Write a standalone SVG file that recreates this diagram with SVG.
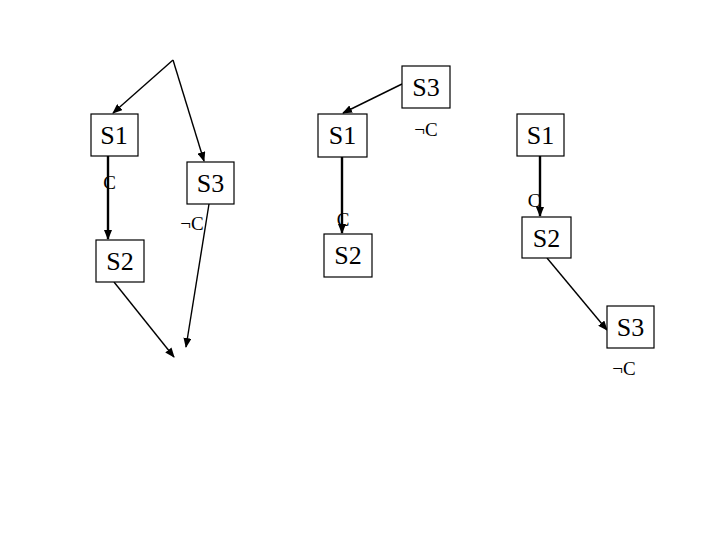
<svg xmlns="http://www.w3.org/2000/svg" width="720" height="540" viewBox="0 0 720 540">
<style>
.box{fill:#fff;stroke:#000;stroke-width:1.2}
.nt{font-family:"Liberation Serif","Times New Roman",serif;font-size:26px;text-anchor:middle;fill:#000}
.lb{font-family:"Liberation Serif","Times New Roman",serif;font-size:19px;text-anchor:middle;fill:#000}
.e{stroke:#000;stroke-width:1.4;fill:none;marker-end:url(#ah)}
.t{stroke:#000;stroke-width:2.4;fill:none;marker-end:url(#ah2)}
</style>
<defs>
<marker id="ah" markerWidth="10" markerHeight="8" refX="9" refY="4" orient="auto" markerUnits="userSpaceOnUse">
<path d="M0,0 L10,4 L0,8 Z" fill="#000"/>
</marker>
<marker id="ah2" markerWidth="10" markerHeight="8" refX="9" refY="4" orient="auto" markerUnits="userSpaceOnUse">
<path d="M0,0 L10,4 L0,8 Z" fill="#000"/>
</marker>
</defs>
<rect width="720" height="540" fill="#fff"/>
<g id="connectors">
<line class="e" x1="173" y1="60" x2="113" y2="113"/>
<line class="e" x1="173" y1="60" x2="204" y2="161"/>
<line class="t" x1="108" y1="156" x2="108" y2="239"/>
<line class="e" x1="114" y1="282" x2="174" y2="357"/>
<line class="e" x1="209" y1="204" x2="186" y2="347"/>
<line class="e" x1="402" y1="84" x2="343" y2="113"/>
<line class="t" x1="342" y1="157" x2="342" y2="233"/>
<line class="t" x1="540" y1="156" x2="540" y2="216"/>
<line class="e" x1="547" y1="258" x2="607" y2="330"/>
<text class="lb" x="109.5" y="189">C</text>
<text class="lb" x="192" y="230">¬C</text>
<text class="lb" x="426" y="136">¬C</text>
<text class="lb" x="343" y="226">C</text>
<text class="lb" x="534" y="207">C</text>
<text class="lb" x="624" y="375">¬C</text>
</g>
<g id="p1-s1"><rect class="box" x="91" y="114" width="47" height="42"/><text class="nt" x="114" y="144">S1</text></g>
<g id="p1-s3"><rect class="box" x="187" y="162" width="47" height="42"/><text class="nt" x="210.5" y="192">S3</text></g>
<g id="p1-s2"><rect class="box" x="96" y="240" width="48" height="42"/><text class="nt" x="120" y="270">S2</text></g>
<g id="p2-s3"><rect class="box" x="402" y="66" width="48" height="42"/><text class="nt" x="426" y="96">S3</text></g>
<g id="p2-s1"><rect class="box" x="318" y="114" width="49" height="43"/><text class="nt" x="342.5" y="144">S1</text></g>
<g id="p2-s2"><rect class="box" x="324" y="234" width="48" height="43"/><text class="nt" x="348" y="264">S2</text></g>
<g id="p3-s1"><rect class="box" x="517" y="114" width="47" height="42"/><text class="nt" x="540.5" y="144">S1</text></g>
<g id="p3-s2"><rect class="box" x="522" y="217" width="49" height="41"/><text class="nt" x="546.5" y="247">S2</text></g>
<g id="p3-s3"><rect class="box" x="607" y="306" width="47" height="42"/><text class="nt" x="630.5" y="336">S3</text></g>
</svg>
